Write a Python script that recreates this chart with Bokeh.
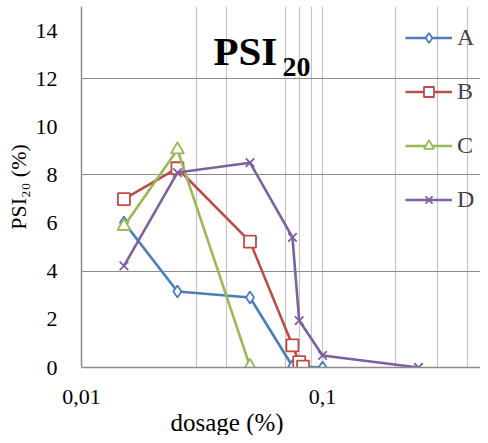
import math
from bokeh.plotting import figure
from bokeh.models import Range1d, FixedTicker, CustomJSTickFormatter, Label, Legend, LegendItem, Title
from bokeh.embed import file_html
from bokeh.resources import INLINE

# ---- data ----
series_names = ["A", "B", "C", "D"]
x_A = [0.015, 0.025, 0.05, 0.075, 0.1]
y_A = [6.03, 3.16, 2.91, 0.05, 0.0]
x_B = [0.015, 0.025, 0.05, 0.075, 0.08, 0.083]
y_B = [7.0, 8.28, 5.23, 0.92, 0.22, 0.04]
x_C = [0.015, 0.025, 0.05]
y_C = [5.87, 9.05, 0.05]
x_D = [0.015, 0.025, 0.05, 0.075, 0.08, 0.1, 0.25]
y_D = [4.22, 8.1, 8.51, 5.41, 1.95, 0.5, 0.0]
y_ticks = [0, 2, 4, 6, 8, 10, 12, 14]
x_ticks = [0.01, 0.1, 1.0]
x_grid = [0.03, 0.04, 0.07, 0.08, 0.09, 0.1, 0.2, 0.3, 0.4]
y_grid = [4, 8, 12, 15]

FONT = "Liberation Serif"

p = figure(width=480, height=435, x_axis_type="log",
           x_range=Range1d(0.01, 0.452), y_range=Range1d(0, 15),
           output_backend="svg", toolbar_location=None,
           min_border_left=81, min_border_right=0, min_border_top=6, min_border_bottom=66)
p.outline_line_color = None
p.background_fill_color = "white"

# axes
for ax in (p.xaxis[0], p.yaxis[0]):
    ax.axis_line_color = "#8c8c8c"
    ax.axis_line_width = 1.5
    ax.major_tick_line_color = None
    ax.minor_tick_line_color = None
    ax.major_tick_out = 0
    ax.major_tick_in = 0
    ax.minor_tick_out = 0
    ax.major_label_text_font = FONT
    ax.major_label_text_font_size = "22px"
    ax.major_label_text_color = "black"

p.yaxis.ticker = FixedTicker(ticks=y_ticks)
p.yaxis.major_label_standoff = 24
p.yaxis.axis_label = "PSI\u2082\u2080 (%)"
p.yaxis.axis_label_text_font = FONT
p.yaxis.axis_label_text_font_size = "22px"
p.yaxis.axis_label_text_font_style = "normal"
p.yaxis.axis_label_text_color = "black"
p.yaxis.axis_label_standoff = 2

p.xaxis.ticker = FixedTicker(ticks=x_ticks)
p.xaxis.major_label_standoff = 22
p.xaxis.formatter = CustomJSTickFormatter(code="return tick.toString().replace('.', ',');")

# grids
p.xgrid.ticker = FixedTicker(ticks=x_grid)
p.xgrid.grid_line_color = "#c4c4c4"
p.xgrid.grid_line_width = 1.2
p.ygrid.ticker = FixedTicker(ticks=y_grid)
p.ygrid.grid_line_color = "#8c8c8c"
p.ygrid.grid_line_width = 1.2

colors = {"A": "#4a7ebb", "B": "#be4b48", "C": "#98b954", "D": "#7d60a0"}
data = {"A": (x_A, y_A, "diamond", 12), "B": (x_B, y_B, "square", 12),
        "C": (x_C, y_C, "triangle", 13), "D": (x_D, y_D, "x", 12)}

items = []
for name in series_names:
    xs, ys, marker, size = data[name]
    c = colors[name]
    r1 = p.line(xs, ys, line_color=c, line_width=2.6)
    r2 = p.scatter(xs, ys, marker=marker, size=size, line_color=c,
                   fill_color="white", line_width=1.8)
    items.append(LegendItem(label=name, renderers=[r1, r2]))

legend = Legend(items=items, location=(324, 154), orientation="vertical",
                glyph_width=47, glyph_height=25, label_height=25, spacing=27,
                padding=0, margin=0, label_standoff=5,
                label_text_font=FONT, label_text_font_size="24px",
                border_line_color=None, background_fill_alpha=0)
p.add_layout(legend, "center")

# title PSI_20
p.add_layout(Label(x=132, y=317, x_units="screen", y_units="screen", text="PSI",
                   text_font=FONT, text_font_size="41px", text_font_style="bold",
                   text_baseline="alphabetic", text_align="left", text_color="black"))
p.add_layout(Label(x=201, y=301, x_units="screen", y_units="screen", text="20",
                   text_font=FONT, text_font_size="28px", text_font_style="bold",
                   text_baseline="alphabetic", text_align="left", text_color="black"))

# x axis label
xlab = Title(text="dosage (%)", align="left", offset=89, standoff=0,
             text_font=FONT, text_font_size="25px", text_font_style="normal",
             text_color="black")
p.add_layout(xlab, "below")

open("out.html", "w").write(file_html(p, INLINE))
